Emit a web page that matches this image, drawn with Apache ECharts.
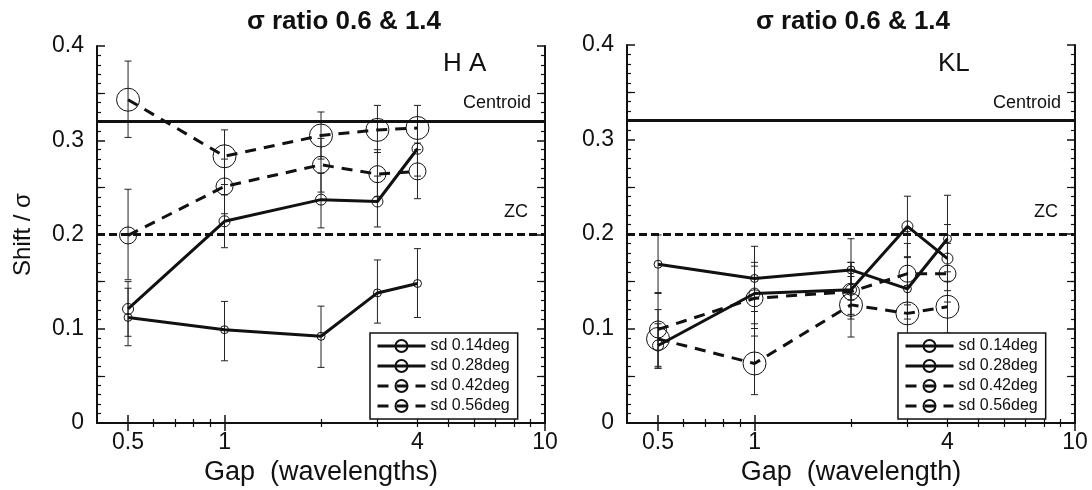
<!DOCTYPE html>
<html>
<head>
<meta charset="utf-8">
<script src="https://cdn.jsdelivr.net/npm/echarts@6/dist/echarts.min.js"></script>
<style>
  html, body { margin: 0; padding: 0; background: #fff; }
  #chart { width: 1092px; height: 490px; }
</style>
</head>
<body>
<div id="chart"></div>
<script>
// Gap values (wavelengths) shared by every condition
const gaps = [0.5, 1, 2, 3, 4];

// Series names (stimulus sd)
const seriesNames = ['sd 0.14deg', 'sd 0.28deg', 'sd 0.42deg', 'sd 0.56deg'];

// Observer HA: mean shift / sigma and error-bar limits
const ha014 = [0.112, 0.099, 0.092, 0.138, 0.148];
const ha014Lo = [0.082, 0.066, 0.059, 0.106, 0.112];
const ha014Hi = [0.143, 0.129, 0.124, 0.173, 0.185];
const ha028 = [0.121, 0.214, 0.237, 0.235, 0.291];
const ha028Lo = [0.092, 0.186, 0.207, 0.208, 0.262];
const ha028Hi = [0.150, 0.242, 0.265, 0.262, 0.320];
const ha042 = [0.199, 0.251, 0.274, 0.264, 0.267];
const ha042Lo = [0.152, 0.222, 0.245, 0.240, 0.238];
const ha042Hi = [0.248, 0.280, 0.302, 0.290, 0.297];
const ha056 = [0.343, 0.283, 0.305, 0.311, 0.313];
const ha056Lo = [0.303, 0.253, 0.280, 0.287, 0.290];
const ha056Hi = [0.384, 0.311, 0.330, 0.337, 0.337];

// Observer KL
const kl014 = [0.168, 0.153, 0.162, 0.142, 0.195];
const kl014Lo = [0.137, 0.118, 0.130, 0.110, 0.160];
const kl014Hi = [0.199, 0.187, 0.195, 0.175, 0.241];
const kl028 = [0.082, 0.137, 0.141, 0.208, 0.174];
const kl028Lo = [0.058, 0.105, 0.115, 0.176, 0.140];
const kl028Hi = [0.105, 0.170, 0.170, 0.240, 0.210];
const kl042 = [0.099, 0.132, 0.139, 0.158, 0.158];
const kl042Lo = [0.060, 0.092, 0.110, 0.125, 0.128];
const kl042Hi = [0.138, 0.166, 0.170, 0.190, 0.190];
const kl056 = [0.089, 0.063, 0.125, 0.116, 0.123];
const kl056Lo = [0.058, 0.030, 0.091, 0.088, 0.095];
const kl056Hi = [0.120, 0.100, 0.155, 0.145, 0.150];

// Model predictions
const centroidLevel = 0.318;
const zcLevel = 0.2;

// Axis ticks and labels
const xLabelValues = [0.5, 1, 4, 10];
const xMajorTicks = [0.5, 1, 10];
const xMinorTicks = [0.6, 0.7, 0.8, 0.9, 2, 3, 4, 5, 6, 7, 8, 9];
const yMidTicks = [0.05, 0.15, 0.25, 0.35];

const FONT = '"Liberation Sans", Arial, Helvetica, sans-serif';
const INK = '#111';

// Marker size and line dash for each sd
const styles = [
  { size: 8, dash: 'solid' },
  { size: 11, dash: 'solid' },
  { size: 17, dash: [11, 8] },
  { size: 23, dash: [11, 8] }
];

function zipPts(ys) { return gaps.map((g, i) => [g, ys[i]]); }
function zipBars(lo, hi) { return gaps.map((g, i) => [g, lo[i], hi[i]]); }

function xAxesFor(gridIndex, name) {
  const base = {
    type: 'log', logBase: 10, min: 0.4, max: 10, gridIndex,
    splitLine: { show: false }
  };
  return [
    Object.assign({}, base, {
      position: 'bottom',
      name, nameLocation: 'middle', nameGap: 35,
      nameTextStyle: { fontFamily: FONT, fontSize: 27, color: INK },
      axisLine: { show: true, lineStyle: { color: INK, width: 2 } },
      axisTick: { show: true, inside: true, length: 8, customValues: xMajorTicks, lineStyle: { color: INK, width: 1.5 } },
      axisLabel: { show: true, customValues: xLabelValues, margin: 8, fontFamily: FONT, fontSize: 23, color: INK,
                   formatter: v => String(v) }
    }),
    Object.assign({}, base, {
      position: 'bottom',
      axisLine: { show: false },
      axisTick: { show: true, inside: true, length: 4, customValues: xMinorTicks, lineStyle: { color: INK, width: 1.2 } },
      axisLabel: { show: false }
    }),
    Object.assign({}, base, {
      position: 'top',
      axisLine: { show: true, lineStyle: { color: INK, width: 2 } },
      axisTick: { show: true, inside: true, length: 8, customValues: xMajorTicks, lineStyle: { color: INK, width: 1.5 } },
      axisLabel: { show: false }
    }),
    Object.assign({}, base, {
      position: 'top',
      axisLine: { show: false },
      axisTick: { show: true, inside: true, length: 4, customValues: xMinorTicks, lineStyle: { color: INK, width: 1.2 } },
      axisLabel: { show: false }
    })
  ];
}

function yAxesFor(gridIndex, name) {
  const base = { type: 'value', min: 0, max: 0.4, interval: 0.1, gridIndex, splitLine: { show: false } };
  const minor = { show: true, splitNumber: 10, length: 4, lineStyle: { color: INK, width: 1.2 } };
  return [
    Object.assign({}, base, {
      position: 'left',
      name: name || '', nameLocation: 'middle', nameGap: 62, nameRotate: 90,
      nameTextStyle: { fontFamily: FONT, fontSize: 24, color: INK },
      axisLine: { show: true, lineStyle: { color: INK, width: 2 } },
      axisTick: { show: true, inside: true, length: 8, lineStyle: { color: INK, width: 1.5 } },
      minorTick: minor,
      axisLabel: { show: true, margin: 13, fontFamily: FONT, fontSize: 23, color: INK,
                   formatter: v => (v === 0 ? '0' : v.toFixed(1)) }
    }),
    Object.assign({}, base, {
      position: 'left',
      axisLine: { show: false },
      axisTick: { show: true, inside: true, length: 8, customValues: yMidTicks, lineStyle: { color: INK, width: 1.2 } },
      axisLabel: { show: false }
    }),
    Object.assign({}, base, {
      position: 'right',
      axisLine: { show: true, lineStyle: { color: INK, width: 2 } },
      axisTick: { show: true, inside: true, length: 8, lineStyle: { color: INK, width: 1.5 } },
      minorTick: minor,
      axisLabel: { show: false }
    }),
    Object.assign({}, base, {
      position: 'right',
      axisLine: { show: false },
      axisTick: { show: true, inside: true, length: 8, customValues: yMidTicks, lineStyle: { color: INK, width: 1.2 } },
      axisLabel: { show: false }
    })
  ];
}

// Vertical error bar with short caps
function errorBarRenderer(params, api) {
  const x = api.value(0);
  const p1 = api.coord([x, api.value(1)]);
  const p2 = api.coord([x, api.value(2)]);
  const c = 3.5;
  const st = { stroke: '#222', lineWidth: 1 };
  return {
    type: 'group',
    children: [
      { type: 'line', shape: { x1: p1[0], y1: p1[1], x2: p2[0], y2: p2[1] }, style: st },
      { type: 'line', shape: { x1: p1[0] - c, y1: p1[1], x2: p1[0] + c, y2: p1[1] }, style: st },
      { type: 'line', shape: { x1: p2[0] - c, y1: p2[1], x2: p2[0] + c, y2: p2[1] }, style: st }
    ]
  };
}

function panelSeries(xIdx, yIdx, means, los, his) {
  const out = [];
  means.forEach((m, k) => {
    out.push({
      type: 'line', name: seriesNames[k], xAxisIndex: xIdx, yAxisIndex: yIdx,
      data: zipPts(m), symbol: 'circle', symbolSize: styles[k].size, showSymbol: true,
      itemStyle: { color: 'rgba(255,255,255,0)', borderColor: INK, borderWidth: 1 },
      lineStyle: { color: INK, width: 3, type: styles[k].dash },
      z: 3, animation: false
    });
  });
  means.forEach((m, k) => {
    out.push({
      type: 'custom', name: seriesNames[k] + ' error', xAxisIndex: xIdx, yAxisIndex: yIdx,
      renderItem: errorBarRenderer, encode: { x: 0, y: [1, 2] },
      data: zipBars(los[k], his[k]), z: 2, silent: true
    });
  });
  // Centroid and ZC reference levels
  out.push({
    type: 'line', name: 'reference levels', xAxisIndex: xIdx, yAxisIndex: yIdx, data: [],
    markLine: {
      silent: true, symbol: 'none', animation: false,
      data: [
        { yAxis: centroidLevel, lineStyle: { color: INK, width: 3, type: 'solid' },
          label: { show: true, position: 'insideEndTop', formatter: 'Centroid', distance: [14, 9],
                   fontFamily: FONT, fontSize: 18, color: INK } },
        { yAxis: zcLevel, lineStyle: { color: INK, width: 3, type: [8, 4] },
          label: { show: true, position: 'insideEndTop', formatter: 'ZC', distance: [17, 13],
                   fontFamily: FONT, fontSize: 18, color: INK } }
      ]
    }
  });
  return out;
}

function legendFor(left, top) {
  return {
    data: seriesNames.map(n => ({ name: n })),
    orient: 'vertical', left, top,
    itemWidth: 48, itemHeight: 15, itemGap: 4,
    padding: [5, 8, 5, 6],
    borderColor: INK, borderWidth: 1.5, backgroundColor: '#fff',
    lineStyle: { width: 3 },
    textStyle: { fontFamily: FONT, fontSize: 16, color: INK },
    selectedMode: false
  };
}

const chart = echarts.init(document.getElementById('chart'), null, { renderer: 'canvas' });

const option = {
  backgroundColor: '#fff',
  animation: false,
  title: [
    { text: 'σ ratio 0.6 & 1.4', left: 339, top: 4, textAlign: 'center',
      textStyle: { fontFamily: FONT, fontSize: 26, fontWeight: 'bold', color: INK } },
    { text: 'σ ratio 0.6 & 1.4', left: 848, top: 4, textAlign: 'center',
      textStyle: { fontFamily: FONT, fontSize: 26, fontWeight: 'bold', color: INK } },
    { text: 'H A', left: 438, top: 46,
      textStyle: { fontFamily: FONT, fontSize: 26, fontWeight: 'normal', color: INK } },
    { text: 'KL', left: 933, top: 46,
      textStyle: { fontFamily: FONT, fontSize: 26, fontWeight: 'normal', color: INK } }
  ],
  grid: [
    { left: 97, top: 46, width: 448, height: 377, outerBoundsMode: 'none' },
    { left: 627, top: 45, width: 448, height: 378, outerBoundsMode: 'none' }
  ],
  xAxis: xAxesFor(0, 'Gap  (wavelengths)').concat(xAxesFor(1, 'Gap  (wavelength)')),
  yAxis: yAxesFor(0, 'Shift / σ').concat(yAxesFor(1, '')),
  legend: [legendFor(370, 333), legendFor(898, 333)],
  series: []
    .concat(panelSeries(0, 0, [ha014, ha028, ha042, ha056],
                        [ha014Lo, ha028Lo, ha042Lo, ha056Lo],
                        [ha014Hi, ha028Hi, ha042Hi, ha056Hi]))
    .concat(panelSeries(4, 4, [kl014, kl028, kl042, kl056],
                        [kl014Lo, kl028Lo, kl042Lo, kl056Lo],
                        [kl014Hi, kl028Hi, kl042Hi, kl056Hi]))
};

chart.setOption(option);
</script>
</body>
</html>
